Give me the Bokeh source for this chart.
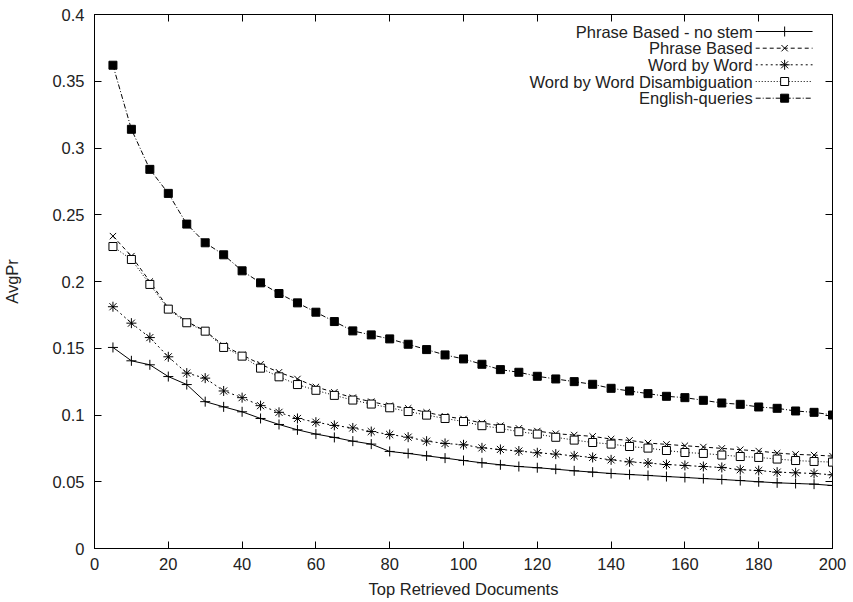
from bokeh.plotting import figure
from bokeh.models import Range1d, LinearAxis, FixedTicker, CustomJSTickFormatter
from bokeh.core.properties import value
from bokeh.embed import file_html
from bokeh.resources import INLINE

# ---------------- data ----------------
docs = [5, 10, 15, 20, 25, 30, 35, 40, 45, 50, 55, 60, 65, 70, 75, 80, 85, 90, 95, 100,
        105, 110, 115, 120, 125, 130, 135, 140, 145, 150, 155, 160, 165, 170, 175, 180, 185, 190, 195, 200]

phrase_no_stem = [0.1506, 0.1406, 0.1376, 0.1288, 0.1228, 0.1100, 0.1061, 0.1024, 0.0974, 0.0929,
                  0.0889, 0.0857, 0.0832, 0.0804, 0.0782, 0.0727, 0.0712, 0.0694, 0.0677, 0.0659,
                  0.0642, 0.0627, 0.0614, 0.0605, 0.0594, 0.0582, 0.0572, 0.0562, 0.0554, 0.0547,
                  0.0539, 0.0532, 0.0524, 0.0517, 0.0509, 0.0500, 0.0492, 0.0487, 0.0482, 0.0472]

phrase_based = [0.234, 0.219, 0.200, 0.180, 0.170, 0.163, 0.152, 0.145, 0.138, 0.132,
                0.127, 0.121, 0.117, 0.113, 0.110, 0.107, 0.105, 0.102, 0.099, 0.097,
                0.094, 0.092, 0.090, 0.088, 0.086, 0.085, 0.084, 0.082, 0.081, 0.079,
                0.078, 0.077, 0.076, 0.075, 0.074, 0.073, 0.0715, 0.0705, 0.0700, 0.0692]

word_by_word = [0.1811, 0.1688, 0.1580, 0.1436, 0.1314, 0.1276, 0.1180, 0.1130, 0.1070, 0.1020,
                0.0974, 0.0946, 0.0922, 0.0903, 0.0876, 0.0854, 0.0834, 0.0804, 0.0787, 0.0777,
                0.0754, 0.0742, 0.0730, 0.0717, 0.0707, 0.0694, 0.0682, 0.0664, 0.0649, 0.0640,
                0.0629, 0.0622, 0.0614, 0.0607, 0.0590, 0.0584, 0.0572, 0.0567, 0.0562, 0.0552]

wbw_disamb = [0.2262, 0.2165, 0.1978, 0.1793, 0.1691, 0.1628, 0.1506, 0.1441, 0.1351, 0.1286,
              0.1228, 0.1185, 0.1147, 0.1112, 0.1082, 0.1054, 0.1026, 0.0999, 0.0974, 0.0951,
              0.0920, 0.0900, 0.0875, 0.0857, 0.0833, 0.0812, 0.0794, 0.0782, 0.0764, 0.0752,
              0.0734, 0.0719, 0.0712, 0.0700, 0.0689, 0.0682, 0.0670, 0.0659, 0.0652, 0.0647]

english_queries = [0.362, 0.314, 0.284, 0.266, 0.243, 0.229, 0.220, 0.208, 0.199, 0.191,
                   0.184, 0.177, 0.170, 0.163, 0.160, 0.157, 0.153, 0.149, 0.145, 0.142,
                   0.138, 0.134, 0.132, 0.129, 0.127, 0.125, 0.123, 0.120, 0.118, 0.116,
                   0.114, 0.113, 0.111, 0.109, 0.108, 0.106, 0.105, 0.103, 0.102, 0.100]

series_names = ["Phrase Based - no stem", "Phrase Based", "Word by Word",
                "Word by Word Disambiguation", "English-queries"]

x_ticks = [0, 20, 40, 60, 80, 100, 120, 140, 160, 180, 200]
y_ticks = [0, 0.05, 0.1, 0.15, 0.2, 0.25, 0.3, 0.35, 0.4]

x_label = "Top Retrieved Documents"
y_label = "AvgPr"

# ---------------- styling ----------------
FONT = "Liberation Sans"
FS = "16.5px"
TXT = "#222222"
styles = [
    dict(dash="solid", marker="cross", size=10, fill=None),
    dict(dash="4 3", marker="x", size=9, fill=None),
    dict(dash="2 3", marker="asterisk", size=10, fill=None),
    dict(dash="1 2", marker="square", size=8, fill="white"),
    dict(dash="5 2 1 2", marker="square", size=8, fill="black"),
]
all_series = [phrase_no_stem, phrase_based, word_by_word, wbw_disamb, english_queries]

p = figure(width=850, height=600, output_backend="svg", toolbar_location=None,
           x_range=Range1d(0, 200), y_range=Range1d(0, 0.4),
           min_border_left=92, min_border_right=18, min_border_top=14, min_border_bottom=52,
           background_fill_color="white", border_fill_color="white")
p.grid.visible = False
p.outline_line_color = "black"
p.outline_line_width = 1

p.xaxis.ticker = FixedTicker(ticks=x_ticks)
p.yaxis.ticker = FixedTicker(ticks=y_ticks)
p.yaxis.formatter = CustomJSTickFormatter(code="return String(Number(tick.toFixed(2)));")
for ax in (p.xaxis[0], p.yaxis[0]):
    ax.major_tick_in = 7
    ax.major_tick_out = 0
    ax.minor_tick_line_color = None
    ax.axis_line_color = "black"
    ax.major_tick_line_color = "black"
    ax.major_label_text_font = FONT
    ax.major_label_text_font_size = FS
    ax.major_label_text_color = TXT
    ax.axis_label_text_font = FONT
    ax.axis_label_text_font_size = FS
    ax.axis_label_text_font_style = "normal"
    ax.axis_label_text_color = TXT
p.xaxis.axis_label = x_label
p.yaxis.axis_label = y_label
p.xaxis.major_label_standoff = 9
p.xaxis.axis_label_standoff = 7
p.yaxis.major_label_standoff = 10
p.yaxis.axis_label_standoff = 28

# mirrored tick marks (top and right)
for loc, tk in (("above", x_ticks), ("right", y_ticks)):
    ax = LinearAxis(ticker=FixedTicker(ticks=tk),
                    formatter=CustomJSTickFormatter(code="return '';"),
                    major_tick_in=7, major_tick_out=0, minor_tick_line_color=None,
                    axis_line_color=None, major_label_standoff=0,
                    major_label_text_font_size="1px")
    p.add_layout(ax, loc)

# series
for ys, st in zip(all_series, styles):
    p.line(docs, ys, line_color="black", line_width=1, line_dash=st["dash"])
    p.scatter(docs, ys, marker=st["marker"], size=st["size"], line_color="black",
              line_width=1, fill_color=st["fill"])

# gnuplot-style key (text right aligned, sample to the right), in pixel layout ranges
p.extra_x_ranges = {"kx": Range1d(0, 740)}
p.extra_y_ranges = {"ky": Range1d(0, 534)}
key_rows = [517, 500.3, 483.7, 467, 450.3]
for name, st, ky in zip(series_names, styles, key_rows):
    p.text(x=[660], y=[ky], text=[name], x_range_name="kx", y_range_name="ky",
           text_align="right", text_baseline="middle", text_font=value(FONT),
           text_font_size=FS, text_color=TXT)
    p.line(x=[663, 720], y=[ky, ky], x_range_name="kx", y_range_name="ky",
           line_color="black", line_width=1, line_dash=st["dash"])
    p.scatter(x=[692], y=[ky], x_range_name="kx", y_range_name="ky",
              marker=st["marker"], size=st["size"], line_color="black",
              line_width=1, fill_color=st["fill"])

open("out.html", "w").write(file_html(p, INLINE))
